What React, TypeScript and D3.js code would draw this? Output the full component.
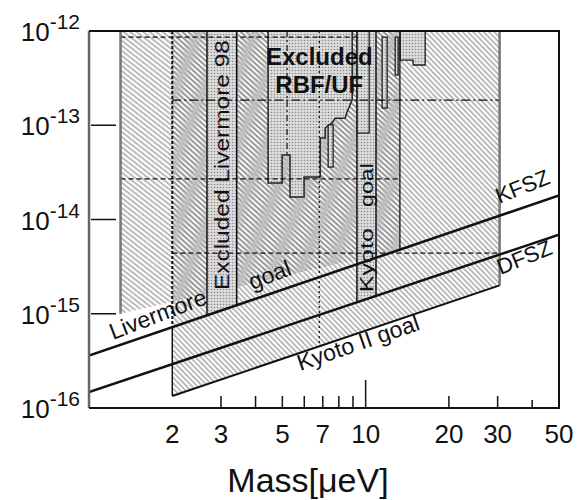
import React from "react";
import * as d3 from "d3";

// axis ticks
const xLabels = [2, 3, 5, 7, 10, 20, 30, 50];
const xMinorTicks = [3, 4, 5, 6, 7, 8, 9, 20, 30, 40];
const yMajor = [1e-13, 1e-14, 1e-15];
const yLabels = [
  { v: 1e-12, e: "-12" },
  { v: 1e-13, e: "-13" },
  { v: 1e-14, e: "-14" },
  { v: 1e-15, e: "-15" },
  { v: 1e-16, e: "-16" },
];

// model lines [mass, coupling]
const ksvz: [number, number][] = [[1, 3.6e-16], [50, 1.8e-14]];
const dfsz: [number, number][] = [[1, 1.48e-16], [50, 6.9e-15]];
const kyotoIILine: [number, number][] = [[2, 1.34e-16], [30.5, 2.0e-15]];

// goal regions
const livermoreGoal = { m0: 1.3, m1: 13.3, gLeft: 1.0e-15 };
const kyotoII = { m0: 2, m1: 30.5 };
const livermore98 = { m0: 2.67, m1: 3.42 };
const kyotoBand = { m0: 9.3, m1: 10.9 };

// excluded RBF/UF
const rbfMain: [number, number][] = [
  [4.44, 1e-12], [4.44, 2.44e-14], [4.99, 2.44e-14], [4.99, 4.83e-14],
  [5.33, 4.83e-14], [5.33, 1.73e-14], [5.99, 1.73e-14], [5.99, 2.82e-14],
  [6.85, 2.82e-14], [6.85, 7.32e-14], [7.14, 7.32e-14], [7.14, 9.35e-14],
  [7.56, 1.06e-13], [7.76, 1.19e-13], [8.43, 1.19e-13], [8.57, 1.38e-13],
  [8.94, 1.85e-13], [8.94, 1e-12],
];
const rbfTopRight: [number, number][] = [
  [13.33, 1e-12], [13.33, 4.92e-13], [14.85, 4.92e-13], [14.85, 4.36e-13],
  [16.42, 4.36e-13], [16.42, 1e-12],
];
const rbfBars = [
  { m0: 7.32, m1: 7.63, g0: 3.6e-14, g1: 1.01e-13 },
  { m0: 9.32, m1: 10.3, g0: 8.27e-14, g1: 1e-12 },
  { m0: 11.47, m1: 11.96, g0: 1.52e-13, g1: 8.6e-13 },
  { m0: 12.79, m1: 13.11, g0: 3.41e-13, g1: 8.6e-13 },
];

// guide lines
const hGuides = [
  { g: 8.6e-13, m0: 1.3, m1: 9.3, dash: "5,3" },
  { g: 1.85e-13, m0: 2, m1: 30.5, dash: "9,3,2,3" },
  { g: 2.7e-14, m0: 1.3, m1: 13.3, dash: "5,3" },
  { g: 4.4e-15, m0: 2, m1: 30.5, dash: "5,3" },
];

const W = 581, H = 500;
const x = d3.scaleLog().domain([1, 50]).range([89, 559]);
const y = d3.scaleLog().domain([1e-16, 1e-12]).range([408, 31]);
const gTop = 1e-12;

const onLine = (l: [number, number][], m: number) => {
  const t = Math.log(m / l[0][0]) / Math.log(l[1][0] / l[0][0]);
  return Math.exp(Math.log(l[0][1]) + t * Math.log(l[1][1] / l[0][1]));
};

const line = d3.line<[number, number]>().x(d => x(d[0])).y(d => y(d[1]));
const poly = (pts: [number, number][]) => line(pts) + "Z";

const font = "'Liberation Sans', Arial, Helvetica, sans-serif";

export default function App() {
  const livPoly = poly([
    [livermoreGoal.m0, gTop], [livermoreGoal.m1, gTop],
    [livermoreGoal.m1, onLine(ksvz, livermoreGoal.m1)],
    [livermoreGoal.m0, livermoreGoal.gLeft],
  ]);
  const kyIIPoly = poly([
    [kyotoII.m0, gTop], [kyotoII.m1, gTop],
    [kyotoII.m1, onLine(kyotoIILine, kyotoII.m1)],
    [kyotoII.m0, onLine(kyotoIILine, kyotoII.m0)],
  ]);
  const l98Poly = poly([
    [livermore98.m0, gTop], [livermore98.m1, gTop],
    [livermore98.m1, onLine(ksvz, livermore98.m1)],
    [livermore98.m0, onLine(ksvz, livermore98.m0)],
  ]);
  const kbPoly = poly([
    [kyotoBand.m0, gTop], [kyotoBand.m1, gTop],
    [kyotoBand.m1, onLine(dfsz, kyotoBand.m1)],
    [kyotoBand.m0, onLine(dfsz, kyotoBand.m0)],
  ]);

  const rot = (m: number, g: number, a: number) =>
    `translate(${x(m)},${y(g)}) rotate(${a})`;
  const kyMid = Math.sqrt(kyotoBand.m0 * kyotoBand.m1);

  return (
    <svg width={W} height={H} style={{ position: "absolute", left: 0, top: 0, background: "#fff" }}
      fontFamily={font}>
      <defs>
        <pattern id="hatchL" patternUnits="userSpaceOnUse" width={4} height={4}
          patternTransform="rotate(38)">
          <line x1={0} y1={1} x2={4} y2={1} stroke="#7a7a7a" strokeWidth={1} />
        </pattern>
        <pattern id="hatchK" patternUnits="userSpaceOnUse" width={4} height={3.8}
          patternTransform="rotate(46)">
          <line x1={0} y1={1} x2={4} y2={1} stroke="#7a7a7a" strokeWidth={1} />
        </pattern>
        <pattern id="dots" patternUnits="userSpaceOnUse" width={3} height={3}>
          <rect width={3} height={3} fill="#dcdcdc" />
          <circle cx={1.5} cy={1.5} r={0.8} fill="#8a8a8a" />
        </pattern>
        <clipPath id="plot">
          <rect x={89} y={31} width={470} height={377} />
        </clipPath>
      </defs>

      <g clipPath="url(#plot)">
        <path d={livPoly} fill="url(#hatchL)" />
        <path d={kyIIPoly} fill="url(#hatchK)" />
        <path d={l98Poly} fill="url(#dots)" stroke="#111" strokeWidth={1.5} />
        <path d={kbPoly} fill="url(#dots)" stroke="#111" strokeWidth={1.5} />
        <path d={poly(rbfMain)} fill="url(#dots)" stroke="#222" strokeWidth={1.5} />
        <path d={poly(rbfTopRight)} fill="url(#dots)" stroke="#222" strokeWidth={1.3} />
        {rbfBars.map((b, i) => (
          <rect key={i} x={x(b.m0)} y={y(b.g1)} width={x(b.m1) - x(b.m0)}
            height={y(b.g0) - y(b.g1)} fill="url(#dots)" stroke="#222" strokeWidth={1.3} />
        ))}

        {hGuides.map((h, i) => (
          <line key={i} x1={x(h.m0)} x2={x(h.m1)} y1={y(h.g)} y2={y(h.g)}
            stroke="#111" strokeWidth={1.2} strokeDasharray={h.dash} />
        ))}
        <line x1={x(5.2)} x2={x(5.2)} y1={y(gTop)} y2={y(4.83e-14)}
          stroke="#111" strokeWidth={1.2} strokeDasharray="6,3,2,3" />
        <line x1={x(6.8)} x2={x(6.8)} y1={y(gTop)} y2={y(onLine(kyotoIILine, 6.8))}
          stroke="#111" strokeWidth={1.3} strokeDasharray="2,3" />

        {/* region edges */}
        <line x1={x(livermoreGoal.m0)} x2={x(livermoreGoal.m0)} y1={y(gTop)} y2={y(livermoreGoal.gLeft)}
          stroke="#777" strokeWidth={2.5} />
        <line x1={x(livermoreGoal.m1)} x2={x(livermoreGoal.m1)} y1={y(gTop)}
          y2={y(onLine(ksvz, livermoreGoal.m1))} stroke="#111" strokeWidth={1.3} />
        <line x1={x(kyotoII.m1)} x2={x(kyotoII.m1)} y1={y(gTop)}
          y2={y(onLine(kyotoIILine, kyotoII.m1))} stroke="#777" strokeWidth={2.5} />
        <line x1={x(kyotoII.m0)} x2={x(kyotoII.m0)} y1={y(gTop)}
          y2={y(onLine(ksvz, kyotoII.m0))} stroke="#111" strokeWidth={2} strokeDasharray="3,2" />
        <line x1={x(kyotoII.m0)} x2={x(kyotoII.m0)} y1={y(onLine(ksvz, kyotoII.m0))}
          y2={y(onLine(kyotoIILine, kyotoII.m0))} stroke="#111" strokeWidth={1.5} />

        <path d={line(kyotoIILine)!} fill="none" stroke="#111" strokeWidth={2} />
        <path d={line(ksvz)!} fill="none" stroke="#111" strokeWidth={2.5} />
        <path d={line(dfsz)!} fill="none" stroke="#111" strokeWidth={2.5} />
      </g>

      {/* labels inside plot */}
      <g fill="#111">
        <text x={x(6.8)} y={y(4.36e-13)} textAnchor="middle" fontSize={24} fontWeight={700}>Excluded</text>
        <text x={x(6.8)} y={y(2.2e-13)} textAnchor="middle" fontSize={24} fontWeight={700}>RBF/UF</text>
        <text transform={rot(Math.sqrt(livermore98.m0 * livermore98.m1), 3.78e-14, -90)}
          textAnchor="middle" dy="0.36em" fontSize={20} textLength={250} lengthAdjust="spacingAndGlyphs">
          Excluded Livermore 98
        </text>
        <text transform={rot(kyMid, 3.7e-15, -90)}
          textAnchor="middle" dy="0.36em" fontSize={19} textLength={64} lengthAdjust="spacingAndGlyphs">
          Kyoto
        </text>
        <text transform={rot(kyMid, 2.32e-14, -90)}
          textAnchor="middle" dy="0.36em" fontSize={19} textLength={44} lengthAdjust="spacingAndGlyphs">
          goal
        </text>
        <text transform={rot(1.22, 5.27e-16, -21)} fontSize={23}>Livermore</text>
        <text transform={rot(3.89, 1.79e-15, -21)} fontSize={23}>goal</text>
        <text transform={rot(30.4, 1.46e-14, -22)} fontSize={22}>KFSZ</text>
        <text transform={rot(30.7, 2.58e-15, -22)} fontSize={22}>DFSZ</text>
        <text transform={rot(5.8, 2.47e-16, -19)} fontSize={23}>Kyoto II goal</text>
      </g>

      {/* frame and ticks */}
      <line x1={89} x2={89} y1={31} y2={408} stroke="#666" strokeWidth={2.5} />
      <path d="M89,31H559V408H89" fill="none" stroke="#111" strokeWidth={2} />
      {yMajor.map(v => (
        <line key={v} x1={91} x2={116} y1={y(v)} y2={y(v)} stroke="#111" strokeWidth={1.5} />
      ))}
      {xMinorTicks.map(v => (
        <line key={v} x1={x(v)} x2={x(v)} y1={408} y2={v === 40 ? 400 : 396} stroke="#111" strokeWidth={1.5} />
      ))}
      <line x1={x(10)} x2={x(10)} y1={408} y2={380} stroke="#111" strokeWidth={1.5} />

      <g fill="#111">
        {yLabels.map(l => (
          <text key={l.e} x={80} y={y(l.v) + 10} textAnchor="end" fontSize={26}>
            10<tspan fontSize={21} dy={-12}>{l.e}</tspan>
          </text>
        ))}
        {xLabels.map(v => (
          <text key={v} x={x(v)} y={443} textAnchor="middle" fontSize={26}>{v}</text>
        ))}
        <text x={308} y={492} textAnchor="middle" fontSize={34}>Mass[μeV]</text>
      </g>
    </svg>
  );
}
